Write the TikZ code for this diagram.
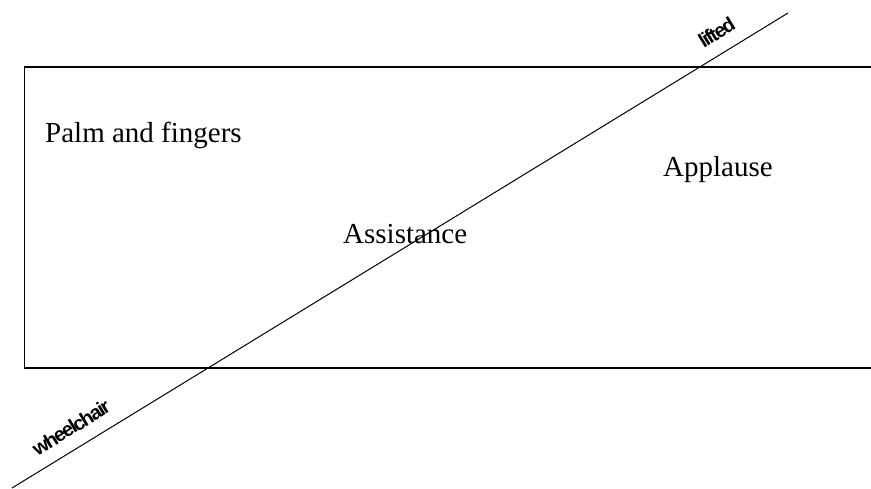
\documentclass[tikz,border=0pt]{standalone}
\usepackage{fontspec}
\setmainfont{Liberation Serif}
\newfontfamily\arialfont{Liberation Sans}[LetterSpace=-9]
\tikzset{
  word/.style={anchor=base west, inner sep=0pt, font=\fontsize{29}{34}\selectfont},
  tag/.style={sloped, above=13pt, inner sep=0pt, font=\arialfont\bfseries\fontsize{20}{22}\selectfont}
}
\begin{document}
\begin{tikzpicture}[x=1pt, y=-1pt]
  \useasboundingbox (0,0) rectangle (871,488);
  \coordinate (TL) at (24.5,67);
  \coordinate (BL) at (24.5,368);
  \coordinate (TR) at (875,67);
  \coordinate (BR) at (875,368);
  \coordinate (W) at (12,488);
  \coordinate (L) at (788,13);
  \draw[line width=1.3pt] (TR)--(TL)--(BL)--(BR);
  \draw[line width=1pt] (W)--(L)
    node[tag, pos=.09] (wheel) {wheelchair}
    node[tag, pos=.922] (lift) {lifted};
  \node[word] (palm) at (45,142) {Palm and fingers};
  \node[word] (assist) at (343,243) {Assistance};
  \node[word] (applause) at (663,176) {Applause};
\end{tikzpicture}
\end{document}
